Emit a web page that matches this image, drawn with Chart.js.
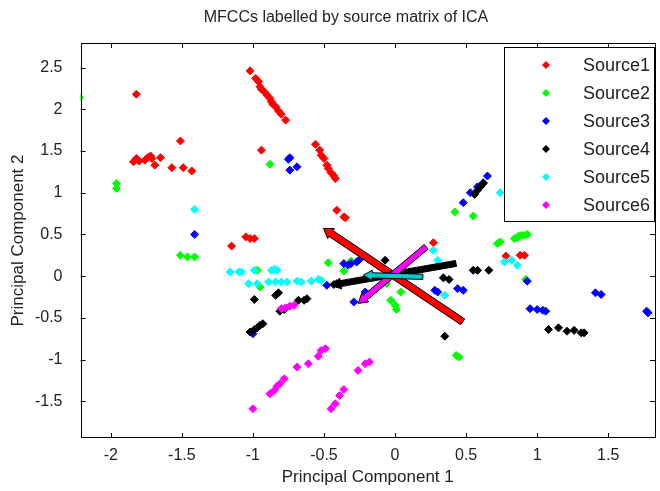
<!DOCTYPE html>
<html>
<head>
<meta charset="utf-8">
<script src="https://cdn.jsdelivr.net/npm/chart.js@4"></script>
<style>
  html, body { margin: 0; padding: 0; background: #fff; }
  #wrap { width: 660px; height: 491px; }
</style>
</head>
<body>
<div id="wrap"><canvas id="chart" width="660" height="491"></canvas></div>
<script>
// axis ranges and tick values
const xRange = [-2.213, 1.829];
const yRange = [-1.94, 2.794];
const xTicks = [-2, -1.5, -1, -0.5, 0, 0.5, 1, 1.5];
const yTicks = [-1.5, -1, -0.5, 0, 0.5, 1, 1.5, 2, 2.5];

const seriesNames = ['Source1', 'Source2', 'Source3', 'Source4', 'Source5', 'Source6'];
const seriesColors = ['#ff0000', '#00ff00', '#0000ff', '#000000', '#00ffff', '#ff00ff'];

// Source1
const s1x = [-1.82, -1.84, -1.82, -1.80, -1.76, -1.74, -1.72, -1.71, -1.69, -1.65, -1.57, -1.51, -1.49, -1.43,
  -1.02, -0.98, -0.96, -0.95, -0.94, -0.92, -0.90, -0.88, -0.87, -0.86, -0.84, -0.82, -0.80, -0.77, -0.94,
  -0.56, -0.53, -0.52, -0.50, -0.48, -0.47, -0.45, -0.43, -0.42, -0.41, -0.36, -0.35,
  -1.15, -1.05, -1.02, -0.99, 0.27, 0.78, 0.88, 0.91];
const s1y = [2.18, 1.37, 1.41, 1.38, 1.39, 1.42, 1.44, 1.41, 1.33, 1.42, 1.30, 1.62, 1.30, 1.26,
  2.46, 2.37, 2.33, 2.27, 2.24, 2.21, 2.17, 2.13, 2.09, 2.06, 2.03, 1.98, 1.94, 1.87, 1.51,
  1.58, 1.51, 1.45, 1.41, 1.33, 1.29, 1.24, 1.20, 1.17, 0.79, 0.71, 0.70,
  0.36, 0.47, 0.45, 0.45, 0.40, 0.24, 0.25, 0.25];

// Source2
const s2x = [-2.22, -1.96, -1.96, -0.88, -1.51, -1.46, -1.41, -0.97, -0.95, 0.42, 0.55,
  0.72, 0.74, 0.84, 0.86, 0.87, 0.89, 0.91, 0.93, -0.47, -0.36, -0.31,
  -0.03, 0.00, 0.01, 0.04, 0.43, 0.45, 0.92, -0.08, -0.06];
const s2y = [2.14, 1.11, 1.05, 1.34, 0.25, 0.23, 0.23, 0.07, -0.13, 0.77, 0.72,
  0.39, 0.41, 0.45, 0.46, 0.48, 0.49, 0.49, 0.50, 0.16, 0.06, 0.18,
  -0.29, -0.35, -0.40, -0.19, -0.95, -0.97, -0.04, 0.09, -0.09];

// Source3
const s3x = [-1.41, -0.75, -0.74, -0.74, -0.69, 0.65, 0.62, 0.58, 0.53, 0.48,
  -0.36, -0.33, -0.31, -0.27, -0.25, -0.48, -0.29, -0.21, 0.28, 0.30, 0.44, 0.48,
  0.93, 0.95, 1.00, 1.04, 1.06, 1.41, 1.45, 1.77, 1.78, -1.00];
const s3y = [0.50, 1.40, 1.42, 1.27, 1.31, 1.20, 1.12, 1.07, 1.00, 0.88,
  0.15, 0.13, 0.15, 0.17, 0.20, -0.11, -0.31, -0.19, -0.17, -0.19, -0.15, -0.17,
  -0.06, -0.39, -0.40, -0.41, -0.42, -0.20, -0.22, -0.42, -0.44, -0.69];

// Source4
const s4x = [0.56, 0.58, 0.60, 0.62, -0.99, -0.84, -0.82, -0.81, -0.78, -0.68, -0.64, -0.62,
  -1.02, -0.99, -0.97, -0.95, -0.93, -0.43, -0.41, -0.07, 0.34, 0.38, 0.55, 0.58, 0.66, 0.35,
  1.08, 1.15, 1.21, 1.26, 1.31, 1.33];
const s4y = [0.98, 1.03, 1.07, 1.11, -0.28, -0.23, -0.20, -0.42, -0.40, -0.29, -0.29, -0.27,
  -0.67, -0.64, -0.62, -0.59, -0.57, -0.10, -0.09, 0.19, -0.02, -0.04, 0.07, 0.07, 0.07, -0.72,
  -0.64, -0.62, -0.66, -0.65, -0.68, -0.68];

// Source5
const s5x = [-1.41, -1.16, -1.10, -1.08, -0.99, -0.87, -0.85, -0.83,
  -1.03, -0.97, -0.89, -0.84, -0.80, -0.76, -0.69, -0.66, -0.59, -0.54, -0.52,
  0.27, 0.30, 0.35, 0.77, 0.82, 0.86, 0.74];
const s5y = [0.80, 0.05, 0.05, 0.05, 0.07, 0.07, 0.08, 0.07,
  -0.09, -0.09, -0.07, -0.07, -0.07, -0.07, -0.06, -0.07, -0.06, -0.04, -0.05,
  0.31, 0.19, -0.23, 0.17, 0.19, 0.13, 1.00];

// Source6
const s6x = [-1.00, -0.88, -0.85, -0.83, -0.81, -0.78, -0.69, -0.61, -0.54, -0.52, -0.49,
  -0.26, -0.21, -0.18, -0.45, -0.42, -0.39, -0.36, -0.80, -0.77, -0.74, -0.71];
const s6y = [-1.59, -1.41, -1.37, -1.32, -1.29, -1.23, -1.09, -1.05, -0.96, -0.89, -0.87,
  -1.13, -1.05, -1.03, -1.59, -1.53, -1.43, -1.36, -0.39, -0.38, -0.36, -0.35];

const seriesX = [s1x, s2x, s3x, s4x, s5x, s6x];
const seriesY = [s1y, s2y, s3y, s4y, s5y, s6y];

// direction arrows: tail -> head (head end gets the arrowhead)
const arrowTailX = [0.476, 0.429, 0.219, 0.196];
const arrowTailY = [-0.547, 0.152, 0.351, -0.008];
const arrowHeadX = [-0.503, -0.445, -0.259, -0.224];
const arrowHeadY = [0.571, -0.108, -0.327, 0.012];
const arrowColors = ['#ff0000', '#000000', '#ff00ff', '#00c8c8'];
const arrowShaft = [3.5, 3, 3, 2.6];

const FONT = '"Liberation Sans", Arial, sans-serif';

const datasets = seriesNames.map((name, i) => ({
  label: name,
  data: seriesX[i].map((x, j) => ({ x, y: seriesY[i][j] })),
  backgroundColor: seriesColors[i],
  borderColor: seriesColors[i],
  borderWidth: 1,
  pointStyle: 'rectRot',
  pointRadius: 4,
  order: seriesNames.length - i
}));

// arrows drawn on top of the points
const arrowPlugin = {
  id: 'arrows',
  afterDatasetsDraw(chart) {
    const { ctx, scales: { x, y } } = chart;
    const headL = 9;
    ctx.save();
    ctx.beginPath();
    ctx.rect(chart.chartArea.left, chart.chartArea.top, chart.chartArea.width, chart.chartArea.height);
    ctx.clip();
    arrowTailX.forEach((_, i) => {
      const shaft = arrowShaft[i], headW = shaft + 2.5;
      const x0 = x.getPixelForValue(arrowTailX[i]), y0 = y.getPixelForValue(arrowTailY[i]);
      const x1 = x.getPixelForValue(arrowHeadX[i]), y1 = y.getPixelForValue(arrowHeadY[i]);
      const len = Math.hypot(x1 - x0, y1 - y0);
      const ux = (x1 - x0) / len, uy = (y1 - y0) / len;
      const nx = -uy, ny = ux;
      const bx = x1 - ux * headL, by = y1 - uy * headL;
      ctx.beginPath();
      ctx.moveTo(x0 + nx * shaft, y0 + ny * shaft);
      ctx.lineTo(bx + nx * shaft, by + ny * shaft);
      ctx.lineTo(bx + nx * headW, by + ny * headW);
      ctx.lineTo(x1, y1);
      ctx.lineTo(bx - nx * headW, by - ny * headW);
      ctx.lineTo(bx - nx * shaft, by - ny * shaft);
      ctx.lineTo(x0 - nx * shaft, y0 - ny * shaft);
      ctx.closePath();
      ctx.fillStyle = arrowColors[i];
      ctx.fill();
      ctx.lineWidth = 1;
      ctx.strokeStyle = '#000';
      ctx.stroke();
    });
    ctx.restore();
  }
};

// box, inward ticks on all four sides, legend and title
const framePlugin = {
  id: 'frame',
  afterDraw(chart) {
    const { ctx, chartArea: a, scales: { x, y } } = chart;
    ctx.save();
    ctx.strokeStyle = '#000';
    ctx.lineWidth = 1;
    ctx.strokeRect(Math.round(a.left) + 0.5, Math.round(a.top) + 0.5,
      Math.round(a.width) - 1, Math.round(a.height) - 1);
    const tl = 5;
    ctx.beginPath();
    xTicks.forEach(v => {
      const px = Math.round(x.getPixelForValue(v)) + 0.5;
      ctx.moveTo(px, a.bottom); ctx.lineTo(px, a.bottom - tl);
      ctx.moveTo(px, a.top); ctx.lineTo(px, a.top + tl);
    });
    yTicks.forEach(v => {
      const py = Math.round(y.getPixelForValue(v)) + 0.5;
      ctx.moveTo(a.left, py); ctx.lineTo(a.left + tl, py);
      ctx.moveTo(a.right, py); ctx.lineTo(a.right - tl, py);
    });
    ctx.stroke();

    // legend
    const lx = 504, ly = 47, lw = a.right - lx, lh = 175;
    ctx.fillStyle = '#fff';
    ctx.fillRect(lx, ly, lw, lh);
    ctx.strokeRect(lx + 0.5, ly + 0.5, lw - 1, lh - 1);
    ctx.font = '18px ' + FONT;
    ctx.textBaseline = 'middle';
    ctx.textAlign = 'left';
    chart.data.datasets.forEach((ds, i) => {
      const cy = ly + 18 + i * 28;
      const cx = 546;
      ctx.beginPath();
      ctx.moveTo(cx, cy - 4); ctx.lineTo(cx + 4, cy); ctx.lineTo(cx, cy + 4); ctx.lineTo(cx - 4, cy);
      ctx.closePath();
      ctx.fillStyle = ds.backgroundColor;
      ctx.fill();
      ctx.fillStyle = '#222';
      ctx.fillText(ds.label, 583, cy + 1);
    });

    // title
    ctx.font = '16px ' + FONT;
    ctx.fillStyle = '#222';
    ctx.textAlign = 'center';
    ctx.textBaseline = 'middle';
    ctx.fillText('MFCCs labelled by source matrix of ICA', 346, 18);
    ctx.restore();
  }
};

new Chart(document.getElementById('chart'), {
  type: 'scatter',
  data: { datasets },
  options: {
    responsive: false,
    animation: false,
    layout: { padding: { top: 43, right: 2, left: 0, bottom: 0 } },
    plugins: { legend: { display: false }, tooltip: { enabled: false } },
    scales: {
      x: {
        type: 'linear',
        min: xRange[0],
        max: xRange[1],
        afterBuildTicks: s => { s.ticks = xTicks.map(v => ({ value: v })); },
        afterFit: s => { s.height = 53; },
        grid: { display: false, drawTicks: false },
        border: { display: false },
        ticks: { color: '#222', font: { family: FONT, size: 16 }, padding: 8, maxRotation: 0,
          callback: v => String(v) },
        title: { display: true, text: 'Principal Component 1', color: '#222',
          font: { family: FONT, size: 17 }, padding: { top: 0, bottom: 3 } }
      },
      y: {
        type: 'linear',
        min: yRange[0],
        max: yRange[1],
        afterBuildTicks: s => { s.ticks = yTicks.map(v => ({ value: v })); },
        afterFit: s => { s.width = 80.5; },
        grid: { display: false, drawTicks: false },
        border: { display: false },
        ticks: { color: '#222', font: { family: FONT, size: 16 }, padding: 18,
          callback: v => String(v) },
        title: { display: true, text: 'Principal Component 2', color: '#222',
          font: { family: FONT, size: 17 }, padding: { top: 8, bottom: 0 } }
      }
    }
  },
  plugins: [arrowPlugin, framePlugin]
});
</script>
</body>
</html>
